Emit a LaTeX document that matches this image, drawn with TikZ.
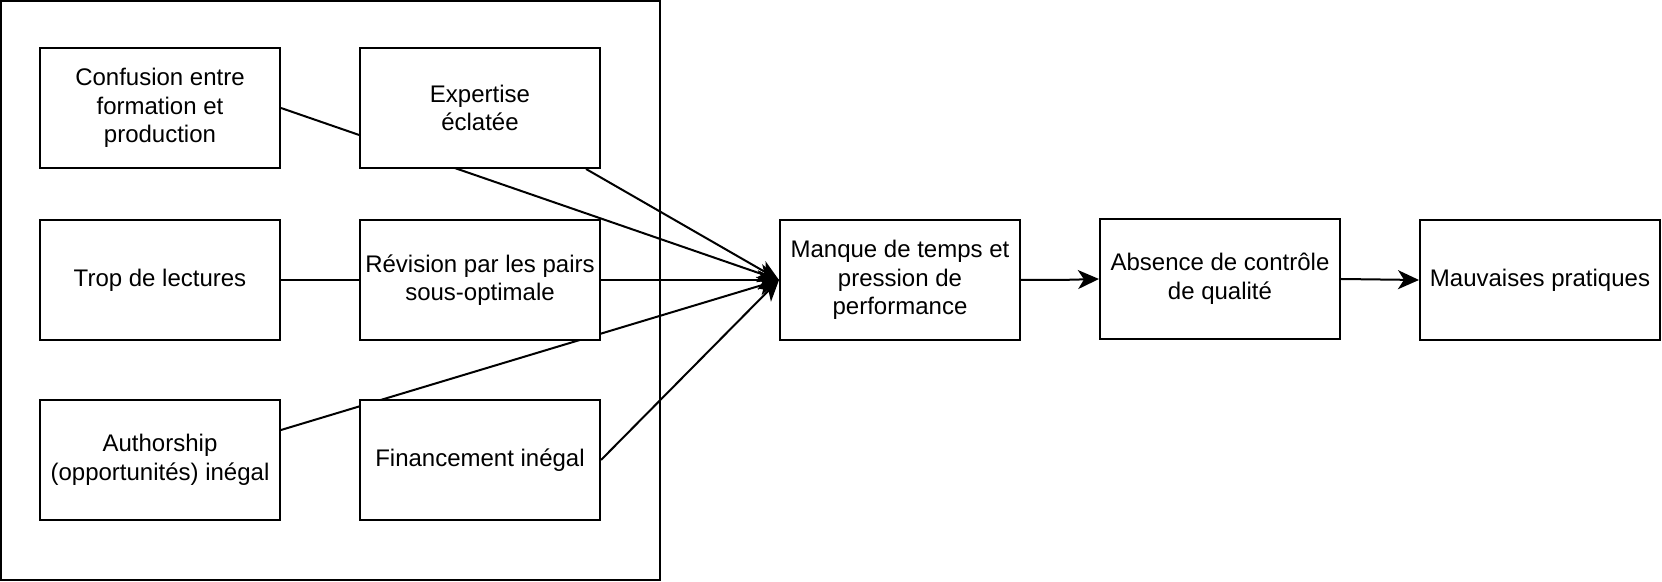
\documentclass[tikz,border=0pt]{standalone}
\usepackage{fontspec}
\setmainfont{Liberation Sans}
\usetikzlibrary{arrows.meta,calc}
\pgfdeclarelayer{back}
\pgfdeclarelayer{edges}
\pgfsetlayers{back,edges,main}
\tikzset{
  box/.style={draw=black, fill=white, line width=1pt, minimum width=120pt, minimum height=60pt, inner sep=0pt, align=center, font=\fontsize{12}{14.3}\selectfont},
  link/.style={draw=black, line width=1pt},
  arr/.style={link, -{Stealth[length=10.5pt, width=9.5pt, inset=3pt]}}
}
\begin{document}
\begin{tikzpicture}[x=1pt, y=-1pt]
\useasboundingbox (0,0) rectangle (831,291);
\node[box] (conf) at (80,54) {Confusion entre\\formation et\\production};
\node[box] (exp) at (240,54) {Expertise\\éclatée};
\node[box] (trop) at (80,140) {Trop de lectures};
\node[box] (rev) at (240,140) {Révision par les pairs\\sous-optimale};
\node[box] (auth) at (80,230) {Authorship\\(opportunités) inégal};
\node[box] (fin) at (240,230) {Financement inégal};
\node[box] (manq) at (450,140) {Manque de temps et\\pression de\\performance};
\node[box] (abs) at (610,139.5) {Absence de contrôle\\de qualité};
\node[box] (mauv) at (770,140) {Mauvaises pratiques};
\coordinate (authx) at ($(auth.east)+(0,-15)$);
\coordinate (bend) at (530,140);
\begin{pgfonlayer}{back}
\draw[line width=1pt, fill=white] (0.5,0.5) rectangle (330,290);
\end{pgfonlayer}
\begin{pgfonlayer}{edges}
\draw[arr] (conf.east) -- (manq.west);
\draw[arr] (exp) -- (manq.west);
\draw[arr] (trop.east) -- (manq.west);
\draw[arr] (rev.east) -- (manq.west);
\draw[arr] (authx) -- (manq.west);
\draw[arr] (fin.east) -- (manq.west);
\draw[arr] (manq.east) -- (bend) -- (abs.west);
\draw[arr] (abs.east) -- (mauv.west);
\end{pgfonlayer}
\end{tikzpicture}
\end{document}
